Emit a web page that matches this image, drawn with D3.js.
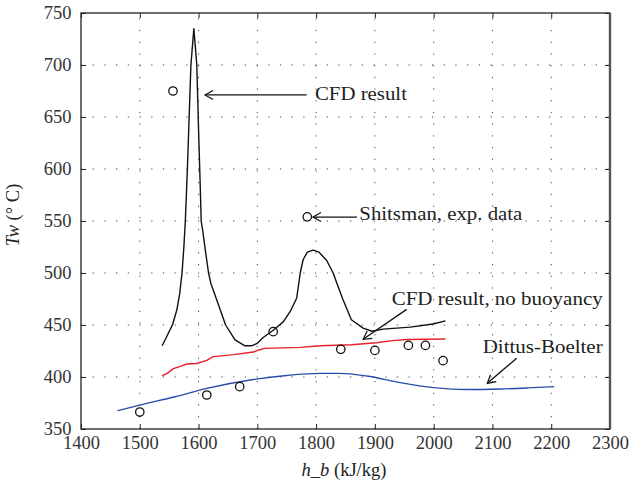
<!DOCTYPE html>
<html>
<head>
<meta charset="utf-8">
<script src="https://cdn.jsdelivr.net/npm/d3@7"></script>
<style>
  body { margin: 0; background: #fff; }
</style>
</head>
<body>
<div id="chart"></div>
<script>
// CFD result (with buoyancy) - h_b, Tw
var cfdH = [1538, 1543, 1556, 1563, 1568, 1572, 1575, 1577.5, 1581, 1584, 1587, 1592, 1597, 1600.5, 1602, 1604.5, 1607, 1611.5, 1617, 1621, 1631, 1646, 1662, 1679, 1690, 1699, 1710, 1727, 1744, 1756, 1767, 1773, 1778, 1785, 1795, 1805, 1818, 1829, 1838, 1846, 1860, 1880, 1895, 1914, 1960, 1999, 2020];
var cfdT = [430, 435.6, 450.7, 464.4, 480.5, 500.7, 525, 550, 600, 650, 700, 735, 700, 628, 600, 550, 541, 522, 500, 490, 474, 450, 435.6, 430, 430, 432, 438, 445, 453, 463, 476, 500, 513, 520, 522, 520, 512, 500, 486, 474, 455, 447, 444, 446, 448, 451, 454];

// CFD result, no buoyancy
var noBuoyH = [1538, 1548, 1557, 1568, 1580, 1597, 1614, 1625, 1660, 1693, 1703, 1712, 1773, 1807, 1860, 1903, 1930, 1954, 2020];
var noBuoyT = [401, 404, 408, 410, 412.5, 413, 416, 419.6, 421.5, 424, 426, 427.5, 428.5, 430, 431, 433, 435, 436, 436.5];

// Dittus-Boelter correlation
var dbH = [1462, 1500, 1560, 1614, 1693, 1750, 1807, 1840, 1886, 1943, 2000, 2056, 2113, 2160, 2205];
var dbT = [367.6, 373, 381, 389, 397.6, 401.5, 403.5, 403.5, 401, 394.6, 389.8, 388, 388.5, 389.5, 390.7];

// Shitsman, exp. data
var expH = [1500, 1556.5, 1614, 1670, 1727, 1785, 1842, 1900, 1957, 1986, 2016];
var expT = [366.3, 675, 382.7, 390.7, 443.6, 554, 426.6, 425.6, 430.4, 430.4, 415.7];

var xTicks = [1400, 1500, 1600, 1700, 1800, 1900, 2000, 2100, 2200, 2300];
var yTicks = [350, 400, 450, 500, 550, 600, 650, 700, 750];

// annotation labels (text anchor and arrow, in data units)
var noteText = ["CFD result", "Shitsman, exp. data", "CFD result, no buoyancy", "Dittus-Boelter"];
var noteAt = [[1798, 666.3], [1873.5, 551], [1928.6, 469.2], [2083.4, 422.8]];
var noteFrom = [[1784, 671.2], [1869.5, 553.8], [1954, 465], [2141.2, 418]];
var noteTo = [[1611, 671.2], [1794.7, 553.8], [1880, 436.3], [2091.2, 393.9]];
var noteLen = [92, 163, 211, 120];

var serif = "'Liberation Serif'";

var width = 632,
    height = 490,
    margin = { top: 13, right: 22, bottom: 61, left: 81 },
    w = width - margin.left - margin.right,
    h = height - margin.top - margin.bottom;

var svg = d3.select("#chart").append("svg")
    .attr("width", width)
    .attr("height", height)
    .style("font-family", serif);

var defs = svg.append("defs");
defs.append("marker")
    .attr("id", "arrow")
    .attr("markerUnits", "userSpaceOnUse")
    .attr("viewBox", "-10 -6 12 12")
    .attr("refX", 0)
    .attr("refY", 0)
    .attr("markerWidth", 12)
    .attr("markerHeight", 12)
    .attr("orient", "auto")
    .append("path")
    .attr("d", "M-8,-4.5L0,0L-8,4.5")
    .attr("fill", "none")
    .attr("stroke", "#111")
    .attr("stroke-width", 1.2);

var g = svg.append("g")
    .attr("transform", "translate(" + margin.left + "," + margin.top + ")");

var x = d3.scaleLinear().domain([1400, 2300]).range([0, w]);
var y = d3.scaleLinear().domain([350, 750]).range([h, 0]);

// dotted grid
g.append("g").selectAll("line")
    .data(xTicks.slice(1, -1))
    .enter().append("line")
    .attr("x1", function(d) { return x(d); })
    .attr("x2", function(d) { return x(d); })
    .attr("y1", h)
    .attr("y2", 0)
    .attr("stroke", "#444")
    .attr("stroke-width", 1)
    .attr("stroke-dasharray", "1.2,10.5");

g.append("g").selectAll("line")
    .data(yTicks.slice(1, -1))
    .enter().append("line")
    .attr("x1", 0)
    .attr("x2", w)
    .attr("y1", function(d) { return y(d); })
    .attr("y2", function(d) { return y(d); })
    .attr("stroke", "#444")
    .attr("stroke-width", 1)
    .attr("stroke-dasharray", "1.2,10.5");

// axes
var axes = [
    g.append("g")
        .attr("transform", "translate(0," + h + ")")
        .call(d3.axisBottom(x).tickValues(xTicks).tickSizeInner(-5).tickSizeOuter(0).tickPadding(7).tickFormat(d3.format("d"))),
    g.append("g")
        .call(d3.axisLeft(y).tickValues(yTicks).tickSizeInner(-5).tickSizeOuter(0).tickPadding(9.5).tickFormat(d3.format("d"))),
    g.append("g")
        .call(d3.axisTop(x).tickValues(xTicks).tickSizeInner(-5).tickSizeOuter(0).tickFormat("")),
    g.append("g")
        .attr("transform", "translate(" + w + ",0)")
        .call(d3.axisRight(y).tickValues(yTicks).tickSizeInner(-5).tickSizeOuter(0).tickFormat(""))
];
axes.forEach(function(a) {
    a.attr("font-family", null).attr("font-size", null);
});

g.selectAll(".domain").remove();
g.selectAll(".tick line").attr("stroke", "#222");
g.selectAll(".tick text")
    .attr("fill", "#333")
    .attr("font-family", "Liberation Serif")
    .style("font-size", "18.5px");

// frame
g.append("rect")
    .attr("width", w)
    .attr("height", h)
    .attr("fill", "none")
    .attr("stroke", "#222")
    .attr("stroke-width", 1.3);
g.append("line")
    .attr("x1", w).attr("x2", w)
    .attr("y1", 0).attr("y2", h)
    .attr("stroke", "#555")
    .attr("stroke-width", 2.4);

// curves
var line = d3.line()
    .x(function(d) { return x(d[0]); })
    .y(function(d) { return y(d[1]); });

g.append("path")
    .datum(d3.zip(dbH, dbT))
    .attr("d", line.curve(d3.curveMonotoneX))
    .attr("fill", "none")
    .attr("stroke", "#2b4bab")
    .attr("stroke-width", 1.4);

g.append("path")
    .datum(d3.zip(noBuoyH, noBuoyT))
    .attr("d", line.curve(d3.curveLinear))
    .attr("fill", "none")
    .attr("stroke", "#e8202a")
    .attr("stroke-width", 1.4);

g.append("path")
    .datum(d3.zip(cfdH, cfdT))
    .attr("d", line.curve(d3.curveLinear))
    .attr("fill", "none")
    .attr("stroke", "#111")
    .attr("stroke-width", 1.4)
    .attr("stroke-linejoin", "round");

// experimental points
g.selectAll(".exp")
    .data(d3.zip(expH, expT))
    .enter().append("circle")
    .attr("class", "exp")
    .attr("cx", function(d) { return x(d[0]); })
    .attr("cy", function(d) { return y(d[1]); })
    .attr("r", 4.2)
    .attr("fill", "none")
    .attr("stroke", "#111")
    .attr("stroke-width", 1.3);

// annotations
noteText.forEach(function(t, i) {
    g.append("line")
        .attr("x1", x(noteFrom[i][0]))
        .attr("y1", y(noteFrom[i][1]))
        .attr("x2", x(noteTo[i][0]))
        .attr("y2", y(noteTo[i][1]))
        .attr("stroke", "#111")
        .attr("stroke-width", 1.3)
        .attr("marker-end", "url(#arrow)");
    g.append("text")
        .attr("x", x(noteAt[i][0]))
        .attr("y", y(noteAt[i][1]))
        .attr("textLength", noteLen[i])
        .attr("lengthAdjust", "spacingAndGlyphs")
        .attr("fill", "#222")
        .style("font-family", serif)
        .style("font-size", "18.5px")
        .text(t);
});

// axis titles
var xl = svg.append("text")
    .attr("x", 344)
    .attr("y", 475.7)
    .attr("text-anchor", "middle")
    .attr("fill", "#222")
    .style("font-family", serif)
    .style("font-size", "18.5px");
xl.append("tspan").style("font-style", "italic").text("h_b");
xl.append("tspan").text(" (kJ/kg)");

var yl = svg.append("text")
    .attr("transform", "translate(19,215) rotate(-90)")
    .attr("text-anchor", "middle")
    .attr("fill", "#222")
    .style("font-family", serif)
    .style("font-size", "18.5px");
yl.append("tspan").style("font-style", "italic").text("Tw");
yl.append("tspan").text(" (\u00b0 C)");
</script>
</body>
</html>
